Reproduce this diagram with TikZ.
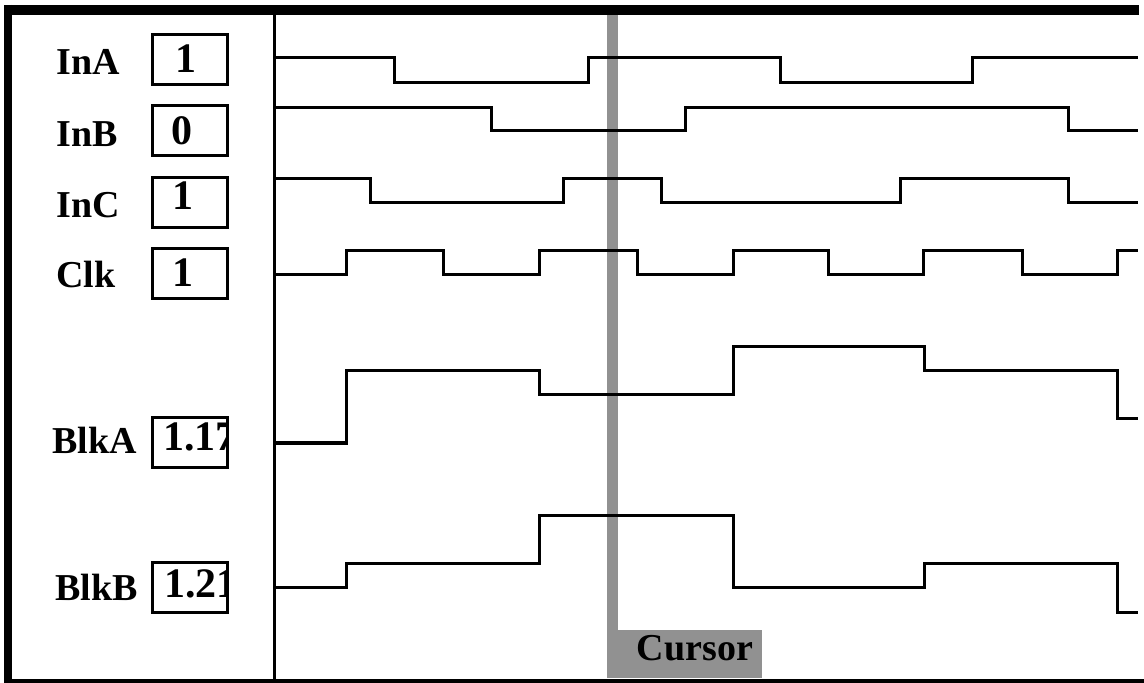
\documentclass[tikz,border=0pt]{standalone}
\usepackage{fontspec}
\setmainfont{Liberation Serif}
\definecolor{cursorgray}{gray}{0.57}
\begin{document}
\begin{tikzpicture}[x=0.5pt, y=-0.5pt,
every node/.style={font=\fontsize{19}{20}\selectfont\bfseries, inner sep=0pt},
sig/.style={anchor=base west},
valbox/.style={draw, line width=1.5pt, minimum width=37.5pt, minimum height=25pt},
val/.style={anchor=base west, font=\fontsize{21}{22}\selectfont\bfseries},
wave/.style={line width=1.5pt},
]
\useasboundingbox (0,0) rectangle (1144,683);
% cursor
\fill[cursorgray] (607,5) rectangle (618,678);
\node[fill=cursorgray, minimum width=77.5pt, minimum height=24pt, anchor=north west] (cur) at (607,630) {};
\node[anchor=base] (curtxt) at (695,660) {Cursor};
% frame
\draw[line width=4pt] (8,5) -- (8,683);
\draw[line width=5pt] (5,10) -- (1139,10);
\draw[line width=2pt] (5,681) -- (1144,681);
\draw[line width=1.5pt] (274,10) -- (274,681);
% names
\node[sig] (lInA) at (56,75) {InA};
\node[sig] (lInB) at (56,147) {InB};
\node[sig] (lInC) at (56,218) {InC};
\node[sig] (lClk) at (56,288) {Clk};
\node[sig] (lBlkA) at (52,453) {BlkA};
\node[sig] (lBlkB) at (55,600) {BlkB};
% values
\node[valbox] (vInA) at (189.5,60) {};
\node[valbox] (vInB) at (189.5,131) {};
\node[valbox] (vInC) at (189.5,203) {};
\node[valbox] (vClk) at (189.5,274) {};
\node[valbox] (vBlkA) at (189.5,442.5) {};
\node[valbox] (vBlkB) at (189.5,587.5) {};
\node[val] at (175,73) {1};
\node[val] at (171,145) {0};
\node[val] at (172,210) {1};
\node[val] at (172,287) {1};
\begin{scope}
\clip (vBlkA.north west) rectangle (vBlkA.south east);
\node[val] at (163,451) {1.17};
\end{scope}
\begin{scope}
\clip (vBlkB.north west) rectangle (vBlkB.south east);
\node[val] at (164,597) {1.21};
\end{scope}
% waves
\draw[wave] (275,58) -| (394,83) -| (588,58) -| (780,83) -| (972,58) -- (1138,58);
\draw[wave] (275,108) -| (491,131) -| (685,108) -| (1068,131) -- (1138,131);
\draw[wave] (275,179) -| (370,203) -| (563,179) -| (661,203) -| (900,179) -| (1068,203) -- (1138,203);
\draw[wave] (275,275) -| (346,251) -| (443,275) -| (539,251) -| (637,275) -| (733,251) -| (828,275) -| (923,251) -| (1022,275) -| (1117,251) -- (1138,251);
\draw[wave] (275,443) -| (346,371) -| (539,395) -| (733,347) -| (924,371) -| (1117,419) -- (1138,419);
\draw[wave] (275,587) -| (346,563) -| (539,515) -| (733,587) -| (924,563) -| (1117,612) -- (1138,612);
\end{tikzpicture}
\end{document}
